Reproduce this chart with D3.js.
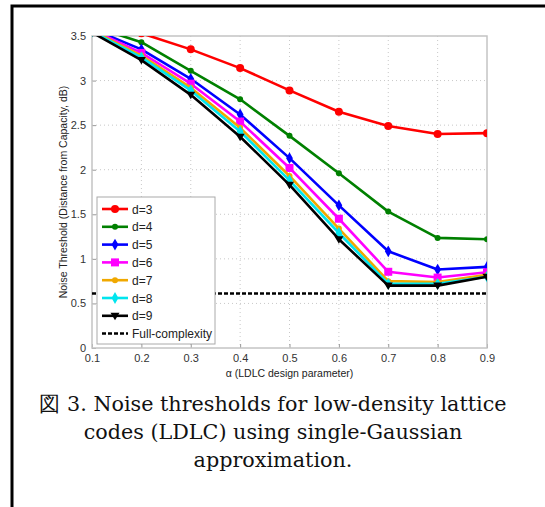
<!DOCTYPE html>
<html>
<head>
<meta charset="utf-8">
<script src="https://cdn.jsdelivr.net/npm/d3@7"></script>
<style>
  body { margin: 0; background: #fff; }
  svg { display: block; }
</style>
</head>
<body>
<svg id="chart" width="545" height="507"></svg>
<script>
// alpha values (x axis)
const alphas = [0.1, 0.2, 0.3, 0.4, 0.5, 0.6, 0.7, 0.8, 0.9];

// noise thresholds per degree d
const d3Vals = [3.75, 3.53, 3.35, 3.14, 2.89, 2.65, 2.49, 2.40, 2.41];
const d4Vals = [3.61, 3.43, 3.11, 2.79, 2.38, 1.96, 1.53, 1.235, 1.22];
const d5Vals = [3.58, 3.35, 3.02, 2.62, 2.13, 1.60, 1.085, 0.88, 0.91];
const d6Vals = [3.57, 3.31, 2.965, 2.54, 2.02, 1.45, 0.855, 0.79, 0.85];
const d7Vals = [3.56, 3.28, 2.92, 2.47, 1.93, 1.34, 0.75, 0.74, 0.82];
const d8Vals = [3.55, 3.26, 2.89, 2.43, 1.88, 1.29, 0.72, 0.72, 0.80];
const d9Vals = [3.54, 3.23, 2.84, 2.37, 1.83, 1.22, 0.70, 0.70, 0.80];
const fullComplexity = 0.61;

const seriesNames = ["d=3", "d=4", "d=5", "d=6", "d=7", "d=8", "d=9"];
const seriesValues = [d3Vals, d4Vals, d5Vals, d6Vals, d7Vals, d8Vals, d9Vals];
const seriesColors = ["#ff0000", "#008000", "#0000ff", "#ff00ff", "#f0a800", "#00e5ee", "#000000"];
const seriesMarkers = ["circle", "dot", "diamond", "square", "dot", "diamond", "triangle"];

const xTicks = [0.1, 0.2, 0.3, 0.4, 0.5, 0.6, 0.7, 0.8, 0.9];
const yTicks = [0, 0.5, 1, 1.5, 2, 2.5, 3, 3.5];

const captionLines = [
  "図 3. Noise thresholds for low-density lattice",
  "codes (LDLC) using single-Gaussian",
  "approximation."
];

let svg = d3.select("#chart");

// outer frame (top and left edges only)
svg.append("path")
    .attr("d", "M12,507 L12,6 L545,6")
    .attr("fill", "none")
    .attr("stroke", "#000")
    .attr("stroke-width", 3);

const plot = {left: 92, right: 487, top: 36, bottom: 348};

let x = d3.scaleLinear().domain([0.1, 0.9]).range([plot.left, plot.right]);
let y = d3.scaleLinear().domain([0, 3.5]).range([plot.bottom, plot.top]);

svg.append("defs").append("clipPath").attr("id", "plotClip")
    .append("rect")
    .attr("x", plot.left).attr("y", plot.top)
    .attr("width", plot.right - plot.left).attr("height", plot.bottom - plot.top);

// grid
let grid = svg.append("g").attr("class", "grid");
grid.selectAll("line.vx")
    .data(xTicks.slice(1, -1))
    .enter().append("line")
    .attr("x1", d => x(d)).attr("x2", d => x(d))
    .attr("y1", plot.top).attr("y2", plot.bottom)
    .attr("stroke", "#c8c8c8").attr("stroke-width", 1)
    .attr("stroke-dasharray", "1,3");
grid.selectAll("line.hy")
    .data(yTicks.slice(1, -1))
    .enter().append("line")
    .attr("x1", plot.left).attr("x2", plot.right)
    .attr("y1", d => y(d)).attr("y2", d => y(d))
    .attr("stroke", "#c8c8c8").attr("stroke-width", 1)
    .attr("stroke-dasharray", "1,3");

// axes
let xAxis = d3.axisBottom(x).tickValues(xTicks).tickSize(-4).tickPadding(8)
    .tickFormat(d3.format(".1f"));
let yAxis = d3.axisLeft(y).tickValues(yTicks).tickSize(-4).tickPadding(6)
    .tickFormat(d => d === 0 ? "0" : d3.format("")(d));

let gx = svg.append("g").attr("transform", "translate(0," + plot.bottom + ")").call(xAxis);
let gy = svg.append("g").attr("transform", "translate(" + plot.left + ",0)").call(yAxis);
[gx, gy].forEach(g => {
    g.select(".domain").remove();
    g.selectAll(".tick line").attr("stroke", "#999");
    g.selectAll(".tick text")
        .attr("fill", "#333")
        .attr("font-family", "Liberation Sans, Arial, sans-serif")
        .attr("font-size", 11);
});
gx.selectAll(".tick text").attr("dy", "0.55em");

// box
svg.append("rect")
    .attr("x", plot.left).attr("y", plot.top)
    .attr("width", plot.right - plot.left).attr("height", plot.bottom - plot.top)
    .attr("fill", "none").attr("stroke", "#c4c4c4").attr("stroke-width", 1.5);

// axis titles
svg.append("text")
    .attr("x", (plot.left + plot.right) / 2).attr("y", 377)
    .attr("text-anchor", "middle")
    .attr("font-family", "Liberation Sans, Arial, sans-serif")
    .attr("font-size", 10.5).attr("fill", "#222")
    .text("α (LDLC design parameter)");

svg.append("text")
    .attr("transform", "translate(67," + ((plot.top + plot.bottom) / 2) + ") rotate(-90)")
    .attr("text-anchor", "middle")
    .attr("font-family", "Liberation Sans, Arial, sans-serif")
    .attr("font-size", 10.5).attr("fill", "#222")
    .text("Noise Threshold (Distance from Capacity, dB)");

function drawMarker(g, type, color, cx, cy) {
    if (type === "circle") {
        g.append("circle").attr("cx", cx).attr("cy", cy).attr("r", 4).attr("fill", color);
    } else if (type === "dot") {
        g.append("circle").attr("cx", cx).attr("cy", cy).attr("r", 3).attr("fill", color);
    } else if (type === "diamond") {
        g.append("path").attr("transform", "translate(" + cx + "," + cy + ")")
            .attr("d", d3.symbol().type(d3.symbolDiamond).size(40)).attr("fill", color);
    } else if (type === "square") {
        g.append("rect").attr("x", cx - 4).attr("y", cy - 4).attr("width", 8).attr("height", 8)
            .attr("fill", color);
    } else if (type === "triangle") {
        g.append("path").attr("d", "M" + (cx - 4.5) + "," + (cy - 3) + " L" + (cx + 4.5) + "," + (cy - 3) + " L" + cx + "," + (cy + 4.5) + " Z")
            .attr("fill", color);
    }
}

let linesGroup = svg.append("g").attr("clip-path", "url(#plotClip)");

// full complexity reference
linesGroup.append("line")
    .attr("x1", x(0.1)).attr("x2", x(0.9))
    .attr("y1", y(fullComplexity)).attr("y2", y(fullComplexity))
    .attr("stroke", "#000").attr("stroke-width", 2.5)
    .attr("stroke-dasharray", "4,2");

let line = d3.line().x((d, i) => x(alphas[i])).y(d => y(d));

seriesValues.forEach((vals, k) => {
    let g = linesGroup.append("g");
    g.append("path")
        .attr("d", line(vals))
        .attr("fill", "none")
        .attr("stroke", seriesColors[k])
        .attr("stroke-width", 2.6)
        .attr("stroke-linejoin", "round");
    vals.forEach((v, i) => drawMarker(g, seriesMarkers[k], seriesColors[k], x(alphas[i]), y(v)));
});

// legend
let legend = svg.append("g").attr("class", "legend");
legend.append("rect")
    .attr("x", 97).attr("y", 197).attr("width", 118).attr("height", 147)
    .attr("fill", "#fff").attr("stroke", "#aaa").attr("stroke-width", 1);

seriesNames.forEach((name, k) => {
    let ly = 209 + k * 17.8;
    legend.append("line")
        .attr("x1", 102).attr("x2", 128).attr("y1", ly).attr("y2", ly)
        .attr("stroke", seriesColors[k]).attr("stroke-width", 2.6);
    drawMarker(legend, seriesMarkers[k], seriesColors[k], 115, ly);
    legend.append("text")
        .attr("x", 132).attr("y", ly + 4.5)
        .attr("font-family", "Liberation Sans, Arial, sans-serif")
        .attr("font-size", 12).attr("fill", "#222")
        .text(name);
});
let fy = 209 + 7 * 17.8;
legend.append("line")
    .attr("x1", 102).attr("x2", 128).attr("y1", fy).attr("y2", fy)
    .attr("stroke", "#000").attr("stroke-width", 2.5).attr("stroke-dasharray", "4,2");
legend.append("text")
    .attr("x", 132).attr("y", fy + 4.5)
    .attr("font-family", "Liberation Sans, Arial, sans-serif")
    .attr("font-size", 12).attr("fill", "#222")
    .text("Full-complexity");

// caption: fit the first line to the width it has in the figure
let caption = svg.selectAll("text.caption")
    .data(captionLines)
    .enter().append("text")
    .attr("class", "caption")
    .attr("x", 273).attr("y", (d, i) => 411 + i * 28)
    .attr("text-anchor", "middle")
    .attr("font-family", "'DejaVu Serif', 'Liberation Serif', serif")
    .attr("font-size", 20).attr("fill", "#111")
    .text(d => d);
let firstWidth = caption.node().getComputedTextLength();
let capSize = Math.min(22, 20 * 467 / firstWidth);
caption.attr("font-size", capSize);
</script>
</body>
</html>
